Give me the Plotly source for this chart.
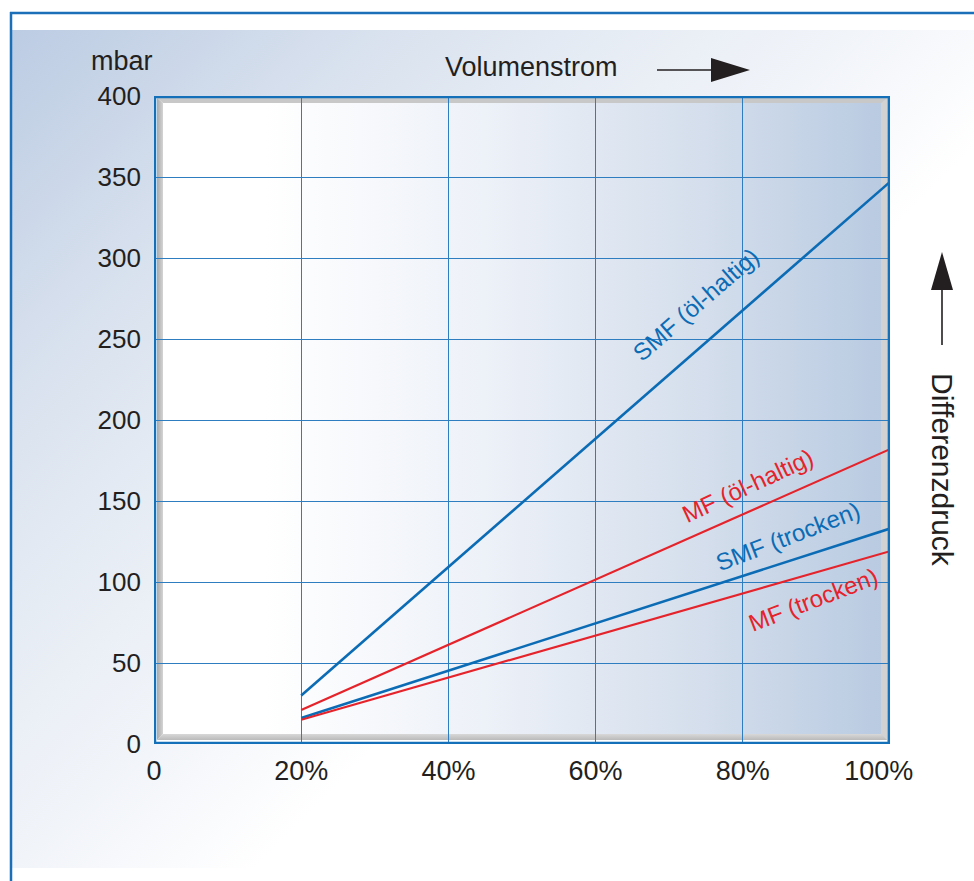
import base64
import plotly.graph_objects as go

# ---------------- data ----------------
flow = [20, 100]                      # Volumenstrom in %
smf_oel = [30, 347]                   # SMF (öl-haltig), mbar
mf_oel = [21, 182]                    # MF (öl-haltig), mbar
smf_trocken = [16, 133]               # SMF (trocken), mbar
mf_trocken = [15, 119]                # MF (trocken), mbar

x_ticks = [0, 20, 40, 60, 80, 100]
x_tick_labels = ["0", "20%", "40%", "60%", "80%", "100%\u00a0\u00a0\u00a0"]
y_ticks = [0, 50, 100, 150, 200, 250, 300, 350, 400]
y_tick_labels = [str(v) for v in y_ticks]

BLUE = "#0b6cb5"
RED = "#e5232b"
GRID = "#2f7dc1"
FRAME = "#1570ba"
TXT = "#231f20"
FONT = "Liberation Sans, Arial, sans-serif"

W, H = 974, 881
L, R, T, B = 154, 84, 96, 137
PW, PH = W - L - R, H - T - B


def px(xp):
    return (xp - L) / PW


def py(yp):
    return (H - B - yp) / PH


# ---------------- background picture ----------------
svg = f"""<svg xmlns='http://www.w3.org/2000/svg' width='{W}' height='{H}' viewBox='0 0 {W} {H}' preserveAspectRatio='none'>
<defs>
<linearGradient id='g1' gradientUnits='userSpaceOnUse' x1='12' y1='30' x2='612' y2='630'>
<stop offset='0' stop-color='#bccce3'/><stop offset='0.3' stop-color='#d8e1ee'/>
<stop offset='0.5' stop-color='#e6ecf4'/><stop offset='0.7' stop-color='#f1f4f9'/>
<stop offset='0.9' stop-color='#ffffff'/></linearGradient>
<linearGradient id='g2' x1='0' y1='0' x2='1' y2='0'>
<stop offset='0' stop-color='#ffffff'/><stop offset='0.15' stop-color='#ffffff'/>
<stop offset='0.45' stop-color='#edf1f8'/><stop offset='0.75' stop-color='#d4deec'/>
<stop offset='1' stop-color='#b8cae1'/></linearGradient>
<linearGradient id='gl' x1='0' y1='0' x2='1' y2='0'>
<stop offset='0' stop-color='#a9a9a9'/><stop offset='1' stop-color='#d4d4d4'/></linearGradient>
<linearGradient id='gb' x1='0' y1='0' x2='0' y2='1'>
<stop offset='0' stop-color='#d8d8d8'/><stop offset='1' stop-color='#bababa'/></linearGradient>
</defs>
<rect width='{W}' height='{H}' fill='#ffffff'/>
<rect x='12' y='30' width='962' height='838' fill='url(#g1)'/>
<rect x='155' y='96' width='734' height='648' fill='url(#g2)'/>
<polygon points='157,98 887,98 881,103 163,103' fill='#c8c8c8'/>
<polygon points='887,98 887,742 881,734 881,103' fill='#d2d2d2'/>
<polygon points='157,740 163,734 881,734 887,740' fill='url(#gb)'/>
<rect x='157' y='740' width='730' height='2' fill='#ffffff'/>
<polygon points='157,98 163,103 163,734 157,740' fill='url(#gl)'/>
<line x1='10' y1='13' x2='974' y2='13' stroke='#1a6fb8' stroke-width='2.5'/>
<line x1='11' y1='12' x2='11' y2='881' stroke='#1a6fb8' stroke-width='2.5'/>
</svg>"""
bg_src = "data:image/svg+xml;base64," + base64.b64encode(svg.encode()).decode()

fig = go.Figure()

series = [
    ("SMF (öl-haltig)", smf_oel, BLUE, 2.6),
    ("MF (öl-haltig)", mf_oel, RED, 2.2),
    ("SMF (trocken)", smf_trocken, BLUE, 2.6),
    ("MF (trocken)", mf_trocken, RED, 2.2),
]
for name, vals, col, lw in series:
    fig.add_trace(go.Scatter(x=flow, y=vals, mode="lines", name=name,
                             line=dict(color=col, width=lw), showlegend=False,
                             hoverinfo="skip"))

# labels along the lines
line_labels = [
    ("SMF (öl-haltig)", 73.6, 271.5, -41, BLUE),
    ("MF (öl-haltig)", 80.7, 159.5, -25, RED),
    ("SMF (trocken)", 86.1, 128.0, -21, BLUE),
    ("MF (trocken)", 89.6, 89.5, -21, RED),
]
annotations = []
for txt, ax_, ay_, ang, col in line_labels:
    annotations.append(dict(x=ax_, y=ay_, xref="x", yref="y", text=txt, showarrow=False,
                            xanchor="center", yanchor="middle",
                            textangle=ang, font=dict(family=FONT, size=24, color=col)))

annotations += [
    dict(x=px(122), y=py(61), xref="paper", yref="paper", text="mbar", showarrow=False,
         xanchor="center", yanchor="middle",
         font=dict(family=FONT, size=27, color=TXT)),
    dict(x=px(531), y=py(67), xref="paper", yref="paper", text="Volumenstrom", showarrow=False,
         xanchor="center", yanchor="middle",
         font=dict(family=FONT, size=27, color=TXT)),
    dict(x=px(943), y=py(470), xref="paper", yref="paper", text="Differenzdruck", showarrow=False,
         xanchor="center", yanchor="middle",
         textangle=90, font=dict(family=FONT, size=30, color=TXT)),
]

shapes = [
    # plot frame
    dict(type="rect", xref="x", yref="y", x0=0, x1=100, y0=0, y1=400,
         line=dict(color=FRAME, width=4.5), layer="above"),
    # arrow after "Volumenstrom"
    dict(type="line", xref="paper", yref="paper", x0=px(657), x1=px(714), y0=py(70), y1=py(70),
         line=dict(color="#231f20", width=1.6)),
    dict(type="path", xref="paper", yref="paper",
         path=f"M {px(711)} {py(58)} L {px(750)} {py(70)} L {px(711)} {py(82)} Z",
         fillcolor="#231f20", line=dict(width=0)),
    # arrow above "Differenzdruck"
    dict(type="line", xref="paper", yref="paper", x0=px(942), x1=px(942), y0=py(345), y1=py(287),
         line=dict(color="#231f20", width=1.6)),
    dict(type="path", xref="paper", yref="paper",
         path=f"M {px(931)} {py(290)} L {px(942)} {py(252)} L {px(953)} {py(290)} Z",
         fillcolor="#231f20", line=dict(width=0)),
]

fig.update_layout(
    width=W, height=H,
    margin=dict(l=L, r=R, t=T, b=B, pad=0),
    paper_bgcolor="#ffffff",
    plot_bgcolor="rgba(0,0,0,0)",
    images=[dict(source=bg_src, xref="paper", yref="paper", x=px(0), y=py(0),
                 sizex=W / PW, sizey=H / PH, xanchor="left", yanchor="top",
                 sizing="stretch", layer="below")],
    annotations=annotations,
    shapes=shapes,
    xaxis=dict(range=[0, 100], tickvals=x_ticks, ticktext=x_tick_labels,
               showgrid=True, gridcolor=GRID, gridwidth=1.3, zeroline=False,
               showline=False, ticks="", ticklabelstandoff=8,
               tickfont=dict(family=FONT, size=27, color=TXT), fixedrange=True),
    yaxis=dict(range=[0, 400], tickvals=y_ticks, ticktext=y_tick_labels,
               showgrid=True, gridcolor=GRID, gridwidth=1.3, zeroline=False,
               showline=False, ticks="", ticklabelstandoff=12,
               tickfont=dict(family=FONT, size=26, color=TXT), fixedrange=True),
)

fig.write_html("out.html", config={"displayModeBar": False},
               post_script="document.body.style.margin='0';document.body.style.overflow='hidden';")
